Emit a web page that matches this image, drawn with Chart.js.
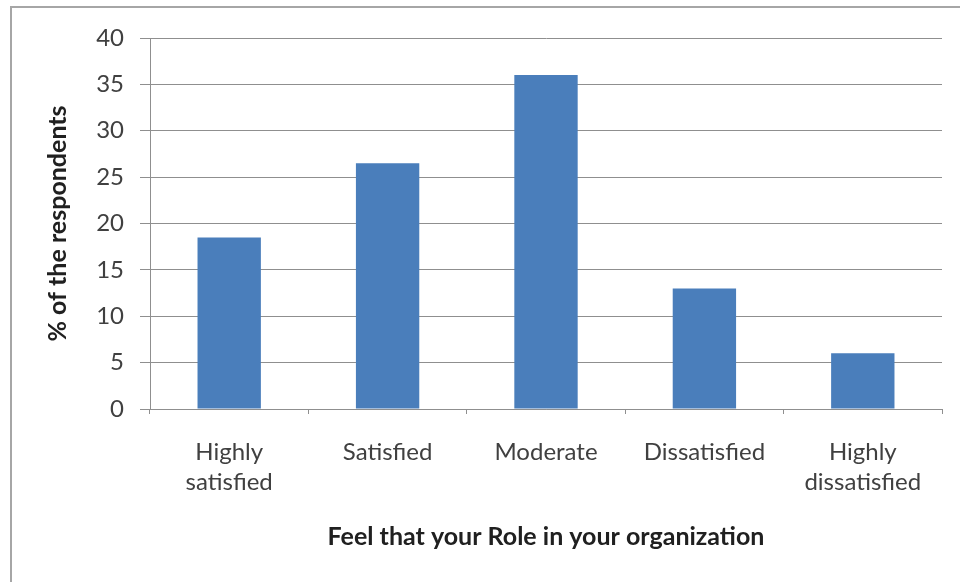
<!DOCTYPE html>
<html>
<head>
<meta charset="utf-8">
<script src="https://cdn.jsdelivr.net/npm/chart.js@4"></script>
<style>
  body { margin: 0; background: #fff; }
  #frame {
    position: absolute; left: 10px; top: 6px; width: 970px; height: 600px;
    border-left: 2px solid #a6a6a6; border-top: 2px solid #a6a6a6;
  }
  #wrap { position: absolute; left: 0; top: 0; width: 960px; height: 582px; }
</style>
</head>
<body>
<div id="frame"></div>
<div id="wrap"><canvas id="myChart" width="960" height="582"></canvas></div>
<script>
const categories = [["Highly", "satisfied"], "Satisfied", "Moderate", "Dissatisfied", ["Highly", "dissatisfied"]];
const percentValues = [18.5, 26.5, 36, 13, 6];
const yTicks = [0, 5, 10, 15, 20, 25, 30, 35, 40];

const ctx = document.getElementById("myChart").getContext("2d");
const gridColor = "#8f8f8f";
const textColor = "#404040";

const chartData = {
  labels: categories,
  datasets: [
    {
      label: "% of the respondents",
      data: percentValues,
      backgroundColor: "#4a7ebb",
      borderWidth: 0,
      barPercentage: 0.4,
      categoryPercentage: 1,
    },
  ],
};

const config = {
  type: "bar",
  data: chartData,
  options: {
    responsive: false,
    animation: false,
    layout: { padding: { top: 38, right: 18, left: 0, bottom: 0 } },
    plugins: { legend: { display: false }, tooltip: { enabled: false } },
    scales: {
      x: {
        offset: true,
        afterFit: (scale) => { scale.height = 173; },
        grid: { drawOnChartArea: false, offset: true, tickLength: 5, color: gridColor },
        border: { color: gridColor },
        ticks: {
          color: textColor,
          padding: 23,
          maxRotation: 0,
          font: { family: "Lato", size: 24, lineHeight: "30px" },
        },
        title: {
          display: true,
          text: "Feel that your Role in your organization",
          color: "#202020",
          font: { family: "Lato", size: 25, weight: "bold", lineHeight: "30px" },
          padding: { top: 0, bottom: 30 },
        },
      },
      y: {
        min: 0,
        max: 40,
        afterFit: (scale) => { scale.width = 150; },
        afterBuildTicks: (scale) => { scale.ticks = yTicks.map((v) => ({ value: v })); },
        grid: { color: gridColor, tickLength: 10 },
        border: { color: gridColor },
        ticks: {
          color: textColor,
          padding: 16,
          font: { family: "Lato", size: 24 },
        },
        title: {
          display: true,
          text: "% of the respondents",
          color: "#202020",
          font: { family: "Lato", size: 25, weight: "bold", lineHeight: "30px" },
          padding: { top: 43, bottom: 0 },
        },
      },
    },
  },
};

new Chart(ctx, config);
</script>
</body>
</html>
